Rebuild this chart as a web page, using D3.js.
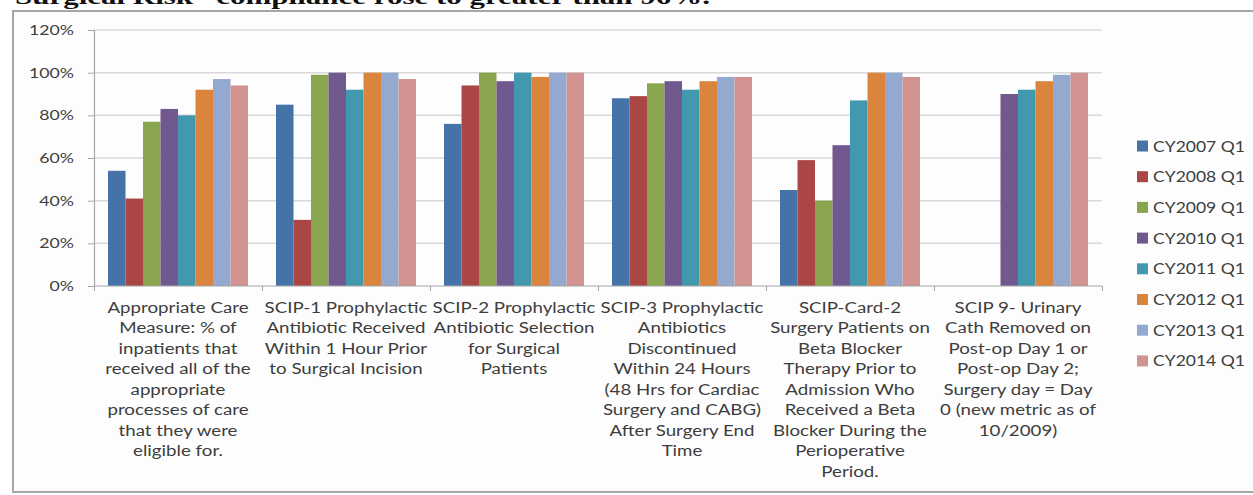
<!DOCTYPE html>
<html>
<head>
<meta charset="utf-8">
<script src="https://cdn.jsdelivr.net/npm/d3@7"></script>
<style>
  html, body { margin: 0; padding: 0; background: #ffffff; }
  svg { display: block; }
</style>
</head>
<body>
<svg id="chart" width="1253" height="495"></svg>
<script>
// Measure names, one per group, wrapped as they appear under the axis
const categories = [
  ["Appropriate Care", "Measure: % of", "inpatients that", "received all of the", "appropriate", "processes of care", "that they were", "eligible for."],
  ["SCIP-1 Prophylactic", "Antibiotic Received", "Within 1 Hour Prior", "to Surgical Incision"],
  ["SCIP-2 Prophylactic", "Antibiotic Selection", "for Surgical", "Patients"],
  ["SCIP-3 Prophylactic", "Antibiotics", "Discontinued", "Within 24 Hours", "(48 Hrs for Cardiac", "Surgery and CABG)", "After Surgery End", "Time"],
  ["SCIP-Card-2", "Surgery Patients on", "Beta Blocker", "Therapy Prior to", "Admission Who", "Received a Beta", "Blocker During the", "Perioperative", "Period."],
  ["SCIP 9- Urinary", "Cath Removed on", "Post-op Day 1 or", "Post-op Day 2;", "Surgery day = Day", "0 (new metric as of", "10/2009)"]
];

const seriesNames = ["CY2007 Q1", "CY2008 Q1", "CY2009 Q1", "CY2010 Q1", "CY2011 Q1", "CY2012 Q1", "CY2013 Q1", "CY2014 Q1"];

// Compliance (%) per series, in category order; null = not measured that year
const cy2007 = [54, 85, 76, 88, 45, null];
const cy2008 = [41, 31, 94, 89, 59, null];
const cy2009 = [77, 99, 100, 95, 40, null];
const cy2010 = [83, 100, 96, 96, 66, 90];
const cy2011 = [80, 92, 100, 92, 87, 92];
const cy2012 = [92, 100, 98, 96, 100, 96];
const cy2013 = [97, 100, 100, 98, 100, 99];
const cy2014 = [94, 97, 100, 98, 98, 100];
const seriesValues = [cy2007, cy2008, cy2009, cy2010, cy2011, cy2012, cy2013, cy2014];

const yTicks = [0, 20, 40, 60, 80, 100, 120];
const colors = ["#4572A7", "#AA4643", "#89A54E", "#71588F", "#4198AF", "#DB843D", "#93A9CF", "#D19392"];
const headline = "Surgical Risk\u201D compliance rose to greater than 96%.";

const svg = d3.select("#chart");
const font = "Lato, 'Open Sans', 'DejaVu Sans', sans-serif";
const textColor = "#3d3d3d";

// Horizontal stretch so a sample string spans the wanted width
function widthFactor(sample, size, target) {
  const t = svg.append("text")
    .attr("font-family", font).attr("font-size", size)
    .text(sample);
  const w = t.node().getComputedTextLength();
  t.remove();
  return w > 0 ? target / w : 1;
}

// Headline line above the frame (only its lower part shows)
svg.append("text")
  .attr("x", 15).attr("y", 4)
  .attr("font-family", "'Liberation Serif', 'DejaVu Serif', serif")
  .attr("font-weight", "bold")
  .attr("font-size", 22)
  .attr("textLength", 695)
  .attr("lengthAdjust", "spacingAndGlyphs")
  .attr("fill", "#111")
  .text(headline);

// Chart frame
svg.append("rect")
  .attr("x", 13).attr("y", 11)
  .attr("width", 1260).attr("height", 481)
  .attr("fill", "#fdfdfd")
  .attr("stroke", "#a6a6a6")
  .attr("stroke-width", 2);

const plot = { left: 94, right: 1102, top: 30, bottom: 286 };

const x0 = d3.scaleBand()
  .domain(d3.range(categories.length))
  .range([plot.left, plot.right])
  .paddingInner(0)
  .paddingOuter(0);

const x1 = d3.scaleBand()
  .domain(d3.range(seriesNames.length))
  .range([0, x0.bandwidth()])
  .paddingOuter(0.8)
  .paddingInner(0);

const y = d3.scaleLinear().domain([0, 120]).range([plot.bottom, plot.top]);

// Horizontal gridlines
svg.append("g")
  .selectAll("line")
  .data(yTicks.filter(t => t > 0))
  .join("line")
  .attr("x1", plot.left).attr("x2", plot.right)
  .attr("y1", d => y(d)).attr("y2", d => y(d))
  .attr("stroke", "#d9d9d9")
  .attr("stroke-width", 1.5);

// Bars
const groups = svg.append("g")
  .selectAll("g")
  .data(categories.map((c, i) => i))
  .join("g")
  .attr("transform", i => `translate(${x0(i)},0)`);

groups.selectAll("rect")
  .data(i => seriesValues.map((s, k) => ({ k, v: s[i] })).filter(d => d.v != null))
  .join("rect")
  .attr("x", d => x1(d.k))
  .attr("width", x1.bandwidth())
  .attr("y", d => y(d.v))
  .attr("height", d => y(0) - y(d.v))
  .attr("fill", d => colors[d.k]);

// Y axis
const yAxis = d3.axisLeft(y)
  .tickValues(yTicks)
  .tickSize(6)
  .tickPadding(14)
  .tickFormat(d => d + "%");

const gy = svg.append("g")
  .attr("transform", `translate(${plot.left},0)`)
  .call(yAxis);
gy.select(".domain").attr("stroke", "#a6a6a6").attr("stroke-width", 1.2);
gy.selectAll(".tick line").attr("stroke", "#a6a6a6");
const ySize = 14;
const yK = widthFactor("120%", ySize, 45);
gy.selectAll(".tick text")
  .attr("font-family", font)
  .attr("font-size", ySize)
  .attr("fill", textColor)
  .attr("x", null)
  .attr("transform", `translate(-20,0) scale(${yK},1)`);

// X axis with tick marks between groups
const xAxis = d3.axisBottom(d3.scaleLinear().domain([0, categories.length]).range([plot.left, plot.right]))
  .tickValues(d3.range(categories.length + 1))
  .tickSize(5)
  .tickFormat("");
const gx = svg.append("g")
  .attr("transform", `translate(0,${plot.bottom})`)
  .call(xAxis);
gx.select(".domain").attr("stroke", "#a6a6a6").attr("stroke-width", 1.2)
  .attr("d", `M${plot.left},0H${plot.right}`);
gx.selectAll(".tick line").attr("stroke", "#a6a6a6");

// Category labels, wrapped lines centred under each group
const labelSize = 14.5;
const labelK = widthFactor("SCIP-1 Prophylactic", labelSize, 163);
const labels = svg.append("g")
  .selectAll("text")
  .data(categories)
  .join("text")
  .attr("text-anchor", "middle")
  .attr("font-family", font)
  .attr("font-size", labelSize)
  .attr("fill", textColor)
  .attr("transform", (c, i) => `translate(${x0(i) + x0.bandwidth() / 2},313) scale(${labelK},1)`);

labels.selectAll("tspan")
  .data(c => c)
  .join("tspan")
  .attr("x", 0)
  .attr("y", (d, j) => j * 20.5)
  .text(d => d);

// Legend
const legendSize = 15.5;
const legendK = widthFactor("CY2007 Q1", legendSize, 92);
const legend = svg.append("g")
  .selectAll("g")
  .data(seriesNames)
  .join("g")
  .attr("transform", (d, i) => `translate(1137,${146 + i * 30.7})`);

legend.append("rect")
  .attr("x", 0).attr("y", -5.5)
  .attr("width", 11).attr("height", 11)
  .attr("fill", (d, i) => colors[i]);

legend.append("text")
  .attr("font-family", font)
  .attr("font-size", legendSize)
  .attr("fill", textColor)
  .attr("transform", `translate(16,5.5) scale(${legendK},1)`)
  .text(d => d);
</script>
</body>
</html>
